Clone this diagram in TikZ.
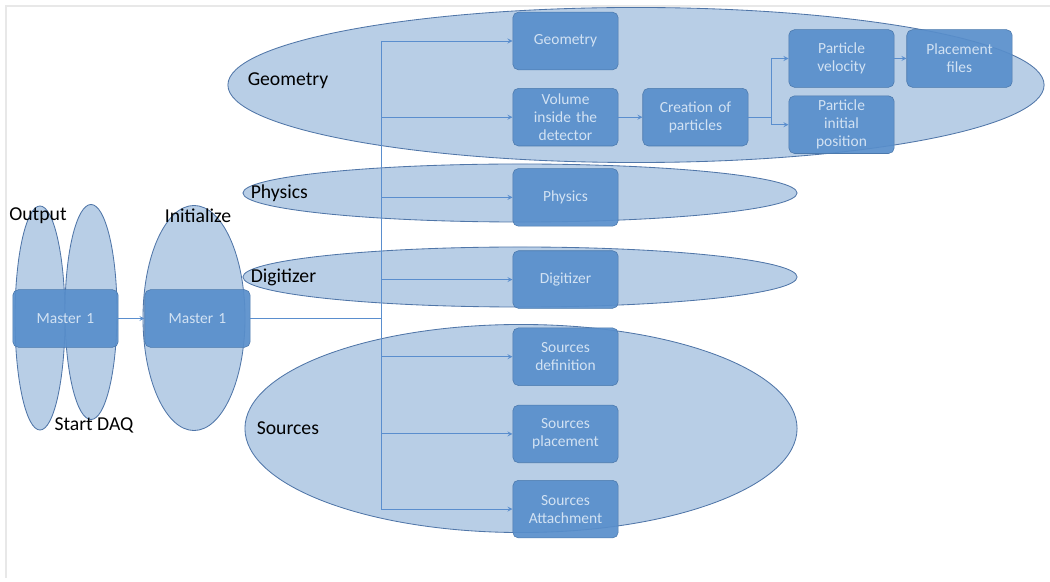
\documentclass[tikz,border=0pt]{standalone}
\usepackage{fontspec}
\setmainfont{Carlito}
\usetikzlibrary{shapes,arrows,positioning,calc}

\definecolor{zonefill}{RGB}{184,206,230}
\definecolor{zoneline}{RGB}{80,118,168}
\definecolor{boxfill}{RGB}{88,142,203}
\definecolor{boxtext}{RGB}{210,226,243}
\definecolor{flowline}{RGB}{90,142,206}

\begin{document}
\begin{tikzpicture}[x=0.025cm, y=-0.025cm, >=stealth,
        zone/.style={ellipse, draw=zoneline, fill=zonefill, line width=0.6pt, inner sep=0pt},
        block/.style={rectangle, rounded corners=4pt, draw=boxfill!85!black, fill=boxfill, fill opacity=0.92, text opacity=1, text=boxtext, text width=2.4cm, align=center, minimum width=2.55cm, minimum height=1.44cm, inner ysep=1pt, font=\fontsize{11}{12.8}\selectfont},
        tag/.style={text=black, inner sep=0pt, font=\fontsize{14}{16}\selectfont},
        flow/.style={->, draw=flowline, line width=0.6pt}]

        \useasboundingbox (0,0) rectangle (1050,582);
        \draw[gray!18, line width=0.8pt] (5,6) -- (1050,6);
        \draw[gray!18, line width=0.8pt] (6,6) -- (6,578);

        \node[zone, minimum width=1.25cm, minimum height=5.6cm] (outzone) at (40,318) {};
        \node[zone, minimum width=1.3cm, minimum height=5.375cm] (daqzone) at (91,312) {};
        \node[zone, minimum width=2.55cm, minimum height=5.625cm] (initzone) at (194,318) {};
        \node[zone, minimum width=20.4cm, minimum height=3.875cm] (geozone) at (636,85) {};
        \node[zone, minimum width=13.85cm, minimum height=1.45cm] (physzone) at (520,193) {};
        \node[zone, minimum width=13.85cm, minimum height=1.5cm] (digizone) at (520,277) {};
        \node[zone, minimum width=13.8cm, minimum height=5.2cm] (srczone) at (521,428.5) {};

        \node[tag] (outtag) at (38,216) {Output};
        \node[tag] (daqtag) at (94,425) {Start DAQ};
        \node[tag] (inittag) at (198,216) {Initialize};
        \node[tag, anchor=west, right=0.5cm of geozone.west, yshift=0.1cm] (geotag) {Geometry};
        \node[tag, anchor=west, right=0.2cm of physzone.west] (phystag) {Physics};
        \node[tag, anchor=west, right=0.2cm of digizone.west] (digitag) {Digitizer};
        \node[tag, anchor=west, right=0.3cm of srczone.west] (srctag) {Sources};

        \node[block] (mst1) at (65.5,318.5) {Master 1};
        \node[block, right=0.65cm of mst1] (mst2) {Master 1};

        \node[block] (geo) at (565.5,41) {Geometry};
        \node[block, below=0.45cm of geo] (vol) {Volume\\inside the\\detector};
        \node[block, below=0.55cm of vol] (phys) {Physics};
        \node[block, below=0.6cm of phys] (digi) {Digitizer};
        \node[block, below=0.475cm of digi] (srcdef) {Sources\\definition};
        \node[block, below=0.475cm of srcdef] (srcpl) {Sources\\placement};
        \node[block, below=0.425cm of srcpl] (srcat) {Sources\\Attachment};
        \node[block, right=0.6cm of vol] (crea) {Creation of\\particles};
        \node[block] (vel) at (841.5,58.5) {Particle\\velocity};
        \node[block, below=0.2cm of vel] (ipos) {Particle\\initial\\position};
        \node[block, right=0.3cm of vel] (files) {Placement\\files};

        \coordinate (split) at (381,318.5);
        \coordinate (fork) at ($(crea.east)+(23,0)$);

        \draw[flow] (mst1) -- (mst2);
        \draw[flowline, line width=0.6pt] (mst2.east) -- (split);
        \draw[flowline, line width=0.6pt] (split |- geo) -- (split |- srcat);
        \foreach \b in {geo,vol,phys,digi,srcdef,srcpl,srcat}
            \draw[flow] (split |- \b) -- (\b);
        \draw[flow] (vol) -- (crea);
        \draw[flowline, line width=0.6pt] (crea.east) -- (fork);
        \draw[flow] (fork) |- (vel);
        \draw[flow] (fork) |- (ipos);
        \draw[flow] (vel) -- (files);

    \end{tikzpicture}
\end{document}
